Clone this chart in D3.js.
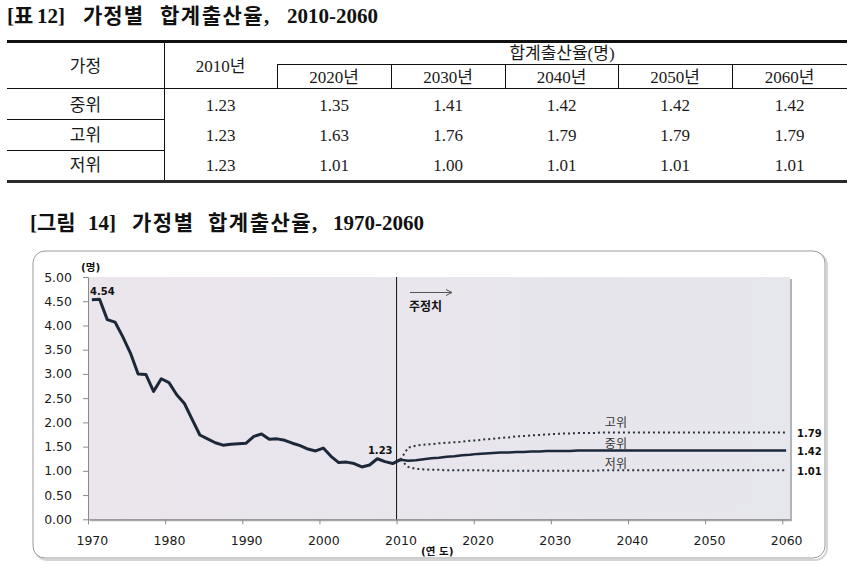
<!DOCTYPE html>
<html>
<head>
<meta charset="utf-8">
<script src="https://cdn.jsdelivr.net/npm/d3@7"></script>
<style>
  body { margin: 0; background: #fff; }
  svg { display: block; }
</style>
</head>
<body>
<div id="chart"></div>
<script>
// table data
var tableYears = ['2020년', '2030년', '2040년', '2050년', '2060년'];
var tableRows = ['중위', '고위', '저위'];
var table2010 = ['1.23', '1.23', '1.23'];
var tableMid = ['1.35', '1.41', '1.42', '1.42', '1.42'];
var tableHigh = ['1.63', '1.76', '1.79', '1.79', '1.79'];
var tableLow = ['1.01', '1.00', '1.01', '1.01', '1.01'];

// chart data
var histYears = d3.range(1970, 2011);
var histTfr = [4.53, 4.54, 4.12, 4.07, 3.77, 3.43, 3.00, 2.99, 2.64, 2.90,
               2.82, 2.57, 2.39, 2.06, 1.74, 1.66, 1.58, 1.53, 1.55, 1.56,
               1.57, 1.71, 1.76, 1.65, 1.66, 1.63, 1.57, 1.52, 1.45, 1.41,
               1.47, 1.30, 1.17, 1.18, 1.15, 1.08, 1.12, 1.25, 1.19, 1.15,
               1.23];
var projYears = d3.range(2010, 2061);
var projMid = [1.23, 1.21, 1.22, 1.24, 1.26, 1.27, 1.29, 1.30, 1.32, 1.33,
               1.35, 1.36, 1.37, 1.38, 1.38, 1.39, 1.39, 1.40, 1.40, 1.41,
               1.41, 1.41, 1.41, 1.42, 1.42, 1.42, 1.42, 1.42, 1.42, 1.42,
               1.42, 1.42, 1.42, 1.42, 1.42, 1.42, 1.42, 1.42, 1.42, 1.42,
               1.42, 1.42, 1.42, 1.42, 1.42, 1.42, 1.42, 1.42, 1.42, 1.42,
               1.42];
var projHigh = [1.23, 1.48, 1.52, 1.54, 1.55, 1.57, 1.58, 1.59, 1.60, 1.62,
                1.63, 1.65, 1.66, 1.68, 1.69, 1.71, 1.72, 1.73, 1.74, 1.75,
                1.76, 1.77, 1.77, 1.78, 1.78, 1.78, 1.79, 1.79, 1.79, 1.79,
                1.79, 1.79, 1.79, 1.79, 1.79, 1.79, 1.79, 1.79, 1.79, 1.79,
                1.79, 1.79, 1.79, 1.79, 1.79, 1.79, 1.79, 1.79, 1.79, 1.79,
                1.79];
var projLow = [1.23, 1.08, 1.04, 1.03, 1.02, 1.02, 1.01, 1.01, 1.01, 1.01,
               1.01, 1.01, 1.00, 1.00, 1.00, 1.00, 1.00, 1.00, 1.00, 1.00,
               1.00, 1.00, 1.00, 1.00, 1.00, 1.00, 1.01, 1.01, 1.01, 1.01,
               1.01, 1.01, 1.01, 1.01, 1.01, 1.01, 1.01, 1.01, 1.01, 1.01,
               1.01, 1.01, 1.01, 1.01, 1.01, 1.01, 1.01, 1.01, 1.01, 1.01,
               1.01];
var yTicks = [0, 0.5, 1, 1.5, 2, 2.5, 3, 3.5, 4, 4.5, 5];
var xTicks = [1970, 1980, 1990, 2000, 2010, 2020, 2030, 2040, 2050, 2060];

var serif = "'Liberation Serif', 'Noto Sans CJK KR', serif";
var sans = "'DejaVu Sans', 'Noto Sans CJK KR', sans-serif";

var svg = d3.select('#chart').append('svg')
	.attr('width', 865)
	.attr('height', 571);

// titles are laid out in pieces so the wide spacing of the original is kept
function title(ty, parts){
	var t = svg.append('text')
		.attr('y', ty)
		.style('font-family', serif)
		.style('font-weight', 'bold')
		.style('font-size', '21px')
		.style('fill', '#111');
	parts.forEach(function(p){
		t.append('tspan').attr('x', p[1])
			.style('letter-spacing', p[2] ? p[2] + 'px' : null)
			.text(p[0]);
	});
}

// ---------- table ----------
title(23, [['[표', 7], ['12]', 37], ['가정별', 83, 1], ['합계출산율,', 160, 1.5], ['2010-2060', 287]]);

var colX = [7, 164, 277, 391, 505, 618, 732, 847];
var colMid = colX.slice(0, -1).map(function(v, i){ return (v + colX[i + 1]) / 2; });
var rowY = [105.5, 135.5, 165.5];

var tb = svg.append('g').style('stroke', '#111').style('shape-rendering', 'crispEdges');
tb.append('line').attr('x1', 7).attr('x2', 847).attr('y1', 41).attr('y2', 41).style('stroke-width', 3);
tb.append('line').attr('x1', 277).attr('x2', 847).attr('y1', 64).attr('y2', 64);
tb.append('line').attr('x1', 7).attr('x2', 847).attr('y1', 88).attr('y2', 88);
[119, 150].forEach(function(v){
	tb.append('line').attr('x1', 7).attr('x2', 164).attr('y1', v).attr('y2', v);
});
tb.append('line').attr('x1', 7).attr('x2', 847).attr('y1', 181).attr('y2', 181)
	.style('stroke-width', 3).style('stroke', '#2a2a2a');
tb.append('line').attr('x1', 164).attr('x2', 164).attr('y1', 42).attr('y2', 180);
colX.slice(2, 7).forEach(function(v){
	tb.append('line').attr('x1', v).attr('x2', v).attr('y1', 64).attr('y2', 88);
});

function cell(x, y, t){
	svg.append('text')
		.attr('x', x).attr('y', y)
		.attr('text-anchor', 'middle')
		.attr('dominant-baseline', 'central')
		.style('font-family', serif)
		.style('font-size', '17px')
		.style('fill', '#1a1a1a')
		.text(t);
}
cell(colMid[0], 66, '가정');
cell(colMid[1], 66, '2010년');
cell((277 + 847) / 2, 53, '합계출산율(명)');
tableYears.forEach(function(t, i){ cell(colMid[i + 2], 77, t); });
tableRows.forEach(function(t, i){
	cell(colMid[0], rowY[i], t);
	cell(colMid[1], rowY[i], table2010[i]);
});
[tableMid, tableHigh, tableLow].forEach(function(row, r){
	row.forEach(function(t, i){ cell(colMid[i + 2], rowY[r], t); });
});

// ---------- chart ----------
title(230, [['[그림', 30], ['14]', 88], ['가정별', 132, 1.5], ['합계출산율,', 208, 1.5], ['1970-2060', 333]]);

// outer frame
svg.append('rect')
	.attr('x', 35).attr('y', 253).attr('width', 792).attr('height', 307)
	.attr('rx', 12)
	.style('fill', 'none').style('stroke', '#d4d4d4').style('stroke-width', 2);
svg.append('rect')
	.attr('x', 33).attr('y', 251).attr('width', 792).attr('height', 307)
	.attr('rx', 12)
	.style('fill', '#fff').style('stroke', '#9a9a9a').style('stroke-width', 1);

var x = d3.scaleLinear().domain([1970, 2061]).range([88, 790]);
var y = d3.scaleLinear().domain([0, 5]).range([519.3, 277]);

var grad = svg.append('defs').append('linearGradient').attr('id', 'bg');
grad.append('stop').attr('offset', '0%').attr('stop-color', '#ebe5ec');
grad.append('stop').attr('offset', '100%').attr('stop-color', '#e6e6ed');

svg.append('rect')
	.attr('x', x(1970) + 2).attr('y', y(5) + 2)
	.attr('width', x(2061) - x(1970)).attr('height', y(0) - y(5))
	.style('fill', '#b4b4b8');
svg.append('rect')
	.attr('x', x(1970)).attr('y', y(5))
	.attr('width', x(2061) - x(1970)).attr('height', y(0) - y(5))
	.style('fill', 'url(#bg)');

// axes
var yAxis = svg.append('g')
	.attr('transform', 'translate(' + x(1970) + ',0)')
	.call(d3.axisLeft(y).tickValues(yTicks).tickFormat(d3.format('.2f'))
		.tickSize(5).tickSizeOuter(0).tickPadding(11));
var xAxis = svg.append('g')
	.attr('transform', 'translate(0,' + y(0) + ')')
	.call(d3.axisBottom(x).tickValues(xTicks).tickFormat(d3.format('d'))
		.tickSize(5).tickSizeOuter(0).tickPadding(12));
xAxis.selectAll('.tick text').attr('dx', x(1970.5) - x(1970));

[yAxis, xAxis].forEach(function(a){
	a.select('.domain').style('stroke', '#8a8a8a');
	a.selectAll('.tick line').style('stroke', '#8a8a8a');
	a.selectAll('.tick text')
		.style('font-family', sans)
		.style('font-size', '12.5px')
		.style('fill', '#1a1a1a');
});

// 2010 divider
svg.append('line')
	.attr('x1', x(2010)).attr('x2', x(2010))
	.attr('y1', y(5)).attr('y2', y(0))
	.style('stroke', '#111').style('stroke-width', 1);

var line = d3.line()
	.x(function(d){ return x(d[0] + 0.5); })
	.y(function(d){ return y(d[1]); });

function pairs(years, vals){ return years.map(function(yr, i){ return [yr, vals[i]]; }); }

svg.append('path')
	.attr('d', line(pairs(projYears, projHigh)))
	.style('fill', 'none').style('stroke', '#2b3340')
	.style('stroke-width', 2).style('stroke-dasharray', '2,3');
svg.append('path')
	.attr('d', line(pairs(projYears, projLow)))
	.style('fill', 'none').style('stroke', '#2b3340')
	.style('stroke-width', 2).style('stroke-dasharray', '2,3');
svg.append('path')
	.attr('d', line(pairs(projYears, projMid)))
	.style('fill', 'none').style('stroke', '#1c2838')
	.style('stroke-width', 2.5);
svg.append('path')
	.attr('d', line(pairs(histYears, histTfr)))
	.style('fill', 'none').style('stroke', '#1c2838')
	.style('stroke-width', 3).style('stroke-linejoin', 'round');

function label(t, lx, ly, opts){
	opts = opts || {};
	svg.append('text')
		.attr('x', lx).attr('y', ly)
		.attr('text-anchor', opts.anchor || 'start')
		.attr('dominant-baseline', 'central')
		.style('font-family', sans)
		.style('font-weight', opts.weight || 'bold')
		.style('font-size', opts.size || '10px')
		.style('fill', opts.fill || '#111')
		.text(t);
}

label('(명)', 81, 266.5, {size: '10.5px'});
label('(연 도)', 421, 551, {size: '10.5px'});
label(d3.format('.2f')(histTfr[1]), 90, y(histTfr[1]) - 7.5);
label(d3.format('.2f')(histTfr[40]), x(2010) - 4, y(histTfr[40]) - 9, {anchor: 'end'});

// right-side end values
[projHigh, projMid, projLow].forEach(function(s){
	var v = s[s.length - 1];
	label(d3.format('.2f')(v), 797, y(v) + 0.7);
});

// scenario names
label('고위', x(2037), y(projHigh[50]) - 10, {weight: 'normal', size: '12px', fill: '#333'});
label('중위', x(2037), y(projMid[50]) - 6.5, {weight: 'normal', size: '12px', fill: '#333'});
label('저위', x(2037), y(projLow[50]) - 6.5, {weight: 'normal', size: '12px', fill: '#333'});

// projection marker
svg.append('line')
	.attr('x1', 410).attr('x2', 452).attr('y1', 292.5).attr('y2', 292.5)
	.style('stroke', '#555').style('stroke-width', 1);
svg.append('path')
	.attr('d', 'M446,289.5L452,292.5L446,295.5')
	.style('fill', 'none').style('stroke', '#555').style('stroke-width', 1);
label('주정치', 409, 307, {size: '12px'});
</script>
</body>
</html>
